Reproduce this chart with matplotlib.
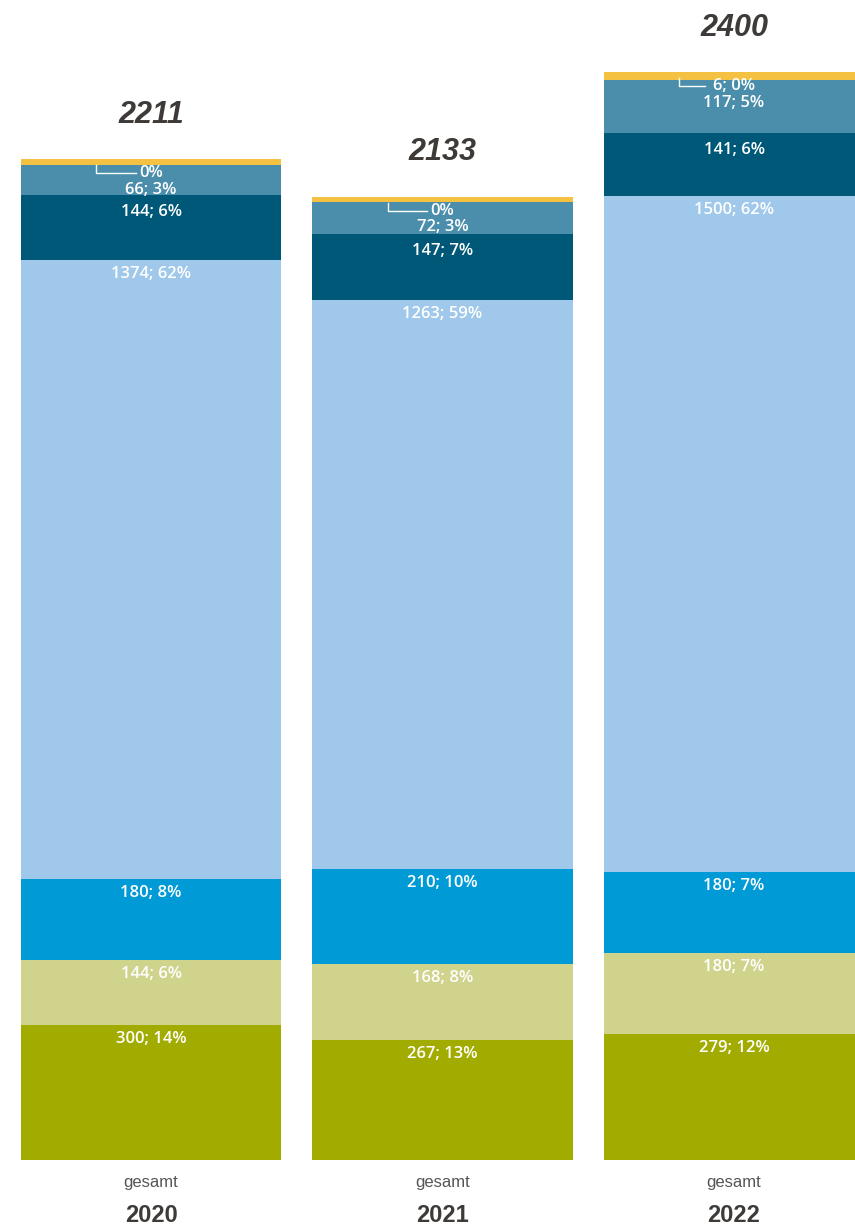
import numpy as np
import matplotlib
matplotlib.use("Agg")
import matplotlib.pyplot as plt

years = ['2020', '2021', '2022']
totals = [2211, 2133, 2400]
# stacked from bottom to top
olive = [300, 267, 279]
light_olive = [144, 168, 180]
blue = [180, 210, 180]
light_blue = [1374, 1263, 1500]
dark_teal = [144, 147, 141]
mid_teal = [66, 72, 117]
yellow = [13, 11, 18]  # drawn height as seen in the picture

olive_lbl = ['300; 14%', '267; 13%', '279; 12%']
light_olive_lbl = ['144; 6%', '168; 8%', '180; 7%']
blue_lbl = ['180; 8%', '210; 10%', '180; 7%']
light_blue_lbl = ['1374; 62%', '1263; 59%', '1500; 62%']
dark_teal_lbl = ['144; 6%', '147; 7%', '141; 6%']
mid_teal_lbl = ['66; 3%', '72; 3%', '117; 5%']
yellow_lbl = ['0%', '0%', '6; 0%']

series = [olive, light_olive, blue, light_blue, dark_teal, mid_teal, yellow]
labels = [olive_lbl, light_olive_lbl, blue_lbl, light_blue_lbl, dark_teal_lbl, mid_teal_lbl, yellow_lbl]
colors = ['#A2AC00', '#D0D38C', '#009AD7', '#9FC8EA', '#005878', '#4A8EAB', '#F4C142']
offsets = [-10, -10, -10, -10, -12, None, None]

fig = plt.figure(figsize=(8.55, 12.29), dpi=100)
ax = fig.add_axes([0, 69/1229, 1, 1160/1229])
ax.set_xlim(-0.518, 2.415)
ax.set_ylim(0, 2575)
ax.axis('off')

lbl_font = dict(ha='center', va='center', color='white', fontsize=12,
                family='Open Sans', weight='semibold')

x = np.arange(len(years))
w = 0.892
bottom = np.zeros(len(years))
for vals, lbls, c, off in zip(series, labels, colors, offsets):
    ax.bar(x, vals, w, bottom=bottom, color=c, linewidth=0)
    tops = bottom + np.array(vals)
    if off is not None:
        for i in range(len(x)):
            ax.annotate(lbls[i], (x[i], tops[i]), xytext=(0, off), textcoords='offset points', **lbl_font)
    bottom = tops

inv = ax.transData.inverted()
for i in range(len(x)):
    top = bottom[i]
    # mid teal label sits below the small yellow label
    ax.annotate(mid_teal_lbl[i], (x[i], top), xytext=(0, -22), textcoords='offset points', **lbl_font)
    ax.annotate(yellow_lbl[i], (x[i], top), xytext=(0, -10), textcoords='offset points', **lbl_font)
    # leader line
    px, py = ax.transData.transform((x[i], top))
    half = len(yellow_lbl[i]) * 4.6 + 6
    pts = [(px - 55, py - 6), (px - 55, py - 14), (px - half, py - 14)]
    dpts = inv.transform(pts)
    ax.plot(dpts[:, 0], dpts[:, 1], color='white', lw=1)
    ax.annotate(str(totals[i]), (x[i], top), xytext=(0, 32), textcoords='offset points',
                ha='center', va='center', color='#3D3A38', fontsize=22,
                family='Liberation Sans', weight='bold', style='italic')
    ax.annotate('gesamt', (x[i], 0), xytext=(0, -16), textcoords='offset points',
                ha='center', va='center', color='#555555', fontsize=12,
                family='Liberation Sans', annotation_clip=False)
    ax.annotate(years[i], (x[i], 0), xytext=(0, -40), textcoords='offset points',
                ha='center', va='center', color='#3D3A38', fontsize=17,
                family='Liberation Sans', weight='bold', annotation_clip=False)

fig.savefig('out.png', dpi=100)
